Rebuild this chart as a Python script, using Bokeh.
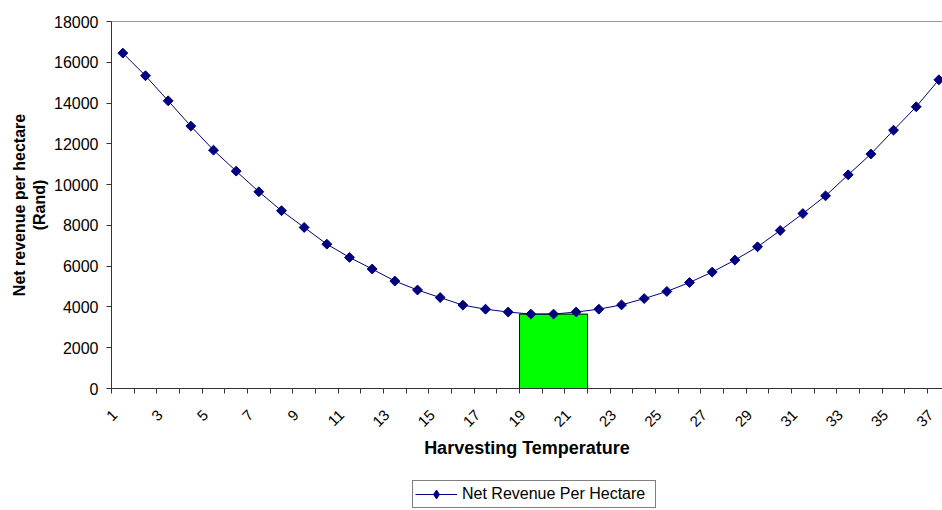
from math import pi
from bokeh.plotting import figure
from bokeh.layouts import column
from bokeh.models import (Range1d, FixedTicker, Legend, LegendItem, Span,
                          CustomJSTickFormatter)
from bokeh.embed import file_html
from bokeh.resources import INLINE

# ---- data ----
temperatures = list(range(1, 38))
net_revenue = [16450, 15340, 14110, 12870, 11690, 10660, 9650, 8720, 7900, 7080,
               6430, 5860, 5270, 4830, 4460, 4090, 3890, 3750, 3650, 3650,
               3750, 3890, 4100, 4410, 4760, 5200, 5710, 6300, 6950, 7750,
               8580, 9450, 10480, 11500, 12670, 13820, 15140]
y_tick_values = [0, 2000, 4000, 6000, 8000, 10000, 12000, 14000, 16000, 18000]
x_tick_labels = temperatures[::2]
band_temps = [19, 21]          # highlighted optimum range (first, last category)
band_revenue = 3650            # height of highlighted block
series_name = "Net Revenue Per Hectare"

FONT = "Liberation Sans"
AXIS_COLOR = "#333333"
SERIES_COLOR = "#000080"
LABEL_NUDGE = 0.35             # rotated labels sit slightly left of category centre

p = figure(width=942, height=478, output_backend="svg", toolbar_location=None,
           x_range=Range1d(0.5, 37.16), y_range=Range1d(0, 18000),
           min_border_left=111, min_border_right=0, min_border_top=21,
           min_border_bottom=90)
p.grid.visible = False
p.outline_line_color = None
p.background_fill_color = "white"
p.border_fill_color = "white"

# highlighted optimum block
p.quad(left=[band_temps[0] - 0.5], right=[band_temps[1] + 0.5], bottom=[0],
       top=[band_revenue], fill_color="#00FF00", line_color="black", line_width=1)

p.line(temperatures, net_revenue, line_color=SERIES_COLOR, line_width=1)
p.scatter(temperatures, net_revenue, marker="square", angle=pi / 4, size=7,
          fill_color=SERIES_COLOR, line_color=SERIES_COLOR)

# top border of plot area
p.add_layout(Span(location=18000, dimension="width", line_color=AXIS_COLOR, line_width=1))

# x axis
xa = p.xaxis[0]
xa.ticker = FixedTicker(ticks=[t - LABEL_NUDGE for t in x_tick_labels],
                        minor_ticks=[t - 0.5 for t in temperatures] + [temperatures[-1] + 0.5])
xa.formatter = CustomJSTickFormatter(code=f"return (tick + {LABEL_NUDGE}).toFixed(0);")
xa.major_tick_out = 0
xa.major_tick_in = 0
xa.minor_tick_out = 5
xa.minor_tick_in = 0
xa.minor_tick_line_color = AXIS_COLOR
xa.axis_line_color = AXIS_COLOR
xa.major_label_orientation = pi / 4
xa.major_label_standoff = 19
xa.major_label_text_font = FONT
xa.major_label_text_font_size = "15px"
xa.major_label_text_color = "black"
xa.axis_label = "Harvesting Temperature"
xa.axis_label_text_font = FONT
xa.axis_label_text_font_size = "18px"
xa.axis_label_text_font_style = "bold"
xa.axis_label_text_color = "black"
xa.axis_label_standoff = 4

# y axis
ya = p.yaxis[0]
ya.ticker = FixedTicker(ticks=y_tick_values)
ya.major_tick_out = 5
ya.major_tick_in = 0
ya.minor_tick_out = 0
ya.minor_tick_in = 0
ya.major_tick_line_color = AXIS_COLOR
ya.axis_line_color = AXIS_COLOR
ya.major_label_standoff = 8
ya.major_label_text_font = FONT
ya.major_label_text_font_size = "16px"
ya.major_label_text_color = "black"
ya.axis_label = "Net revenue per hectare\n(Rand)"
ya.axis_label_text_font = FONT
ya.axis_label_text_font_size = "16px"
ya.axis_label_text_font_style = "bold"
ya.axis_label_text_color = "black"
ya.axis_label_standoff = 3

# ---- legend strip below the chart ----
lf = figure(width=942, height=32, output_backend="svg", toolbar_location=None,
            x_range=Range1d(0, 1), y_range=Range1d(0, 1),
            x_axis_type=None, y_axis_type=None,
            min_border_left=0, min_border_right=0, min_border_top=0, min_border_bottom=0)
lf.grid.visible = False
lf.outline_line_color = None
lf.background_fill_color = "white"
lf.border_fill_color = "white"
proxy_line = lf.line(temperatures, net_revenue, line_color=SERIES_COLOR, line_width=1)
proxy_mark = lf.scatter(temperatures, net_revenue, marker="diamond", size=10,
                        fill_color=SERIES_COLOR, line_color=SERIES_COLOR)
proxy_line.visible = False
proxy_mark.visible = False

legend = Legend(items=[LegendItem(label=series_name, renderers=[proxy_line, proxy_mark])],
                location=(301, 2), orientation="horizontal",
                border_line_color="black", border_line_width=1,
                label_text_font=FONT, label_text_font_size="16px",
                label_text_color="black",
                padding=2, margin=0, glyph_width=42, glyph_height=22,
                label_height=18, label_width=191,
                label_standoff=5, background_fill_alpha=1)
lf.add_layout(legend)

open("out.html", "w").write(file_html(column(p, lf), INLINE))
